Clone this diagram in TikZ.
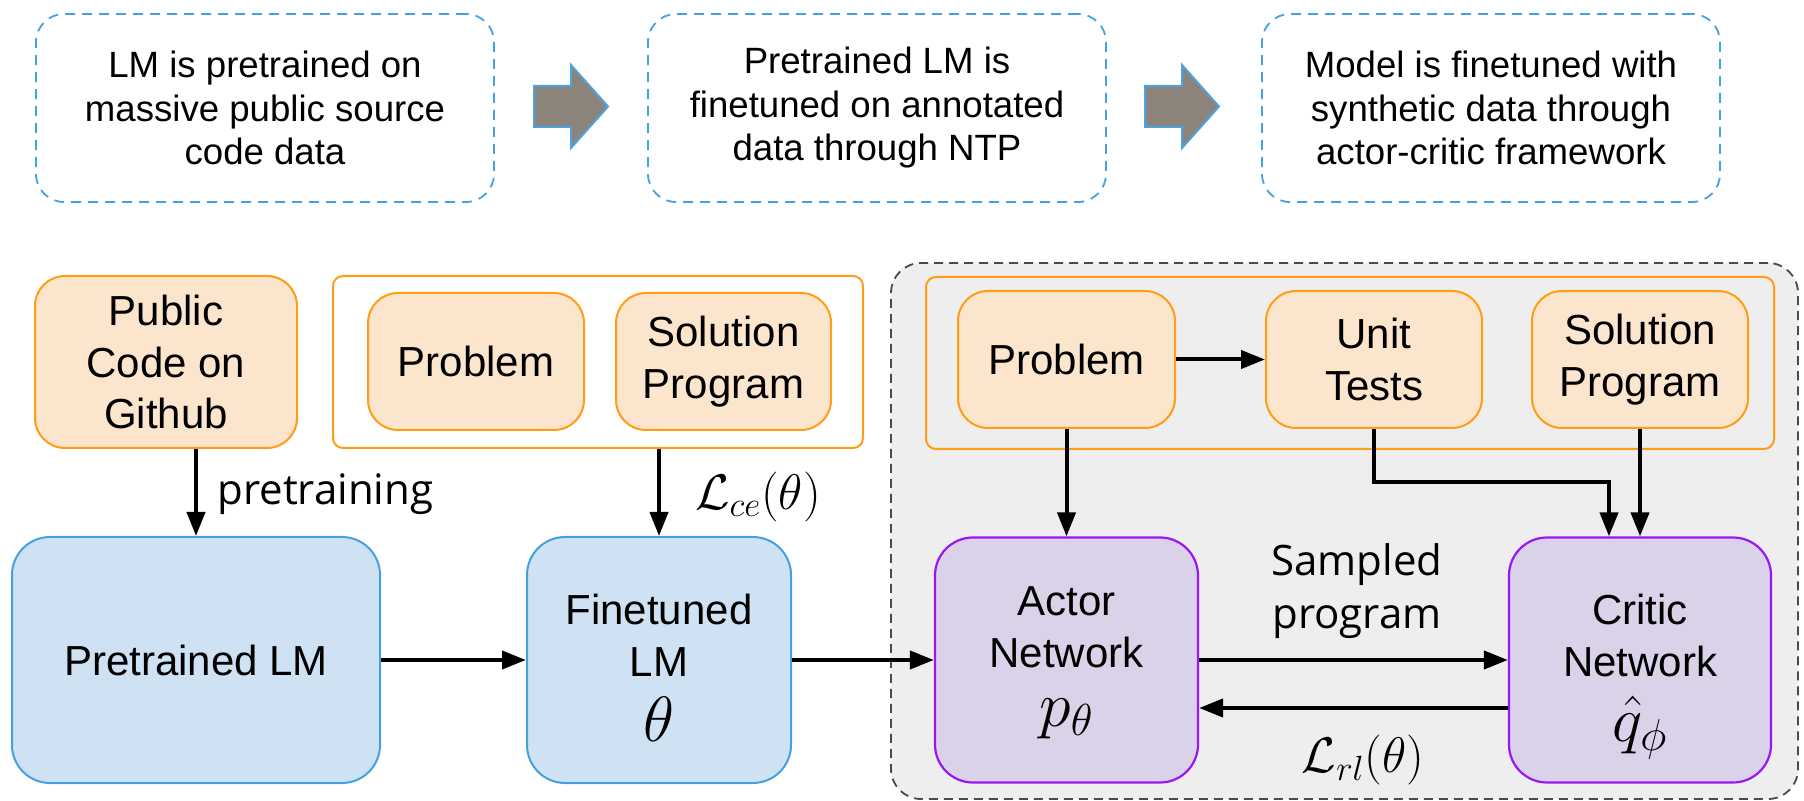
\RequirePackage{fix-cm}
\documentclass[tikz,border=0pt]{standalone}
\usepackage[no-math]{fontspec}
\setmainfont{Liberation Sans}
\newfontfamily\labelfont{Open Sans}
\usetikzlibrary{arrows.meta}

\definecolor{noteblue}{HTML}{45A2E2}
\definecolor{blockfill}{HTML}{8C837A}
\definecolor{blockline}{HTML}{4DA3E0}
\definecolor{orangeline}{HTML}{FF9D14}
\definecolor{orangefill}{HTML}{FCE5CD}
\definecolor{lmline}{HTML}{45A1DE}
\definecolor{lmfill}{HTML}{CFE2F3}
\definecolor{netline}{HTML}{9A16F5}
\definecolor{netfill}{HTML}{D9D2E9}
\definecolor{regionfill}{HTML}{EEEEEE}
\definecolor{regionline}{HTML}{4A4A4A}

\newcommand\symbolline[1]{{\fontsize{32}{32}\selectfont$#1$}}

\tikzset{
  notebox/.style={draw=noteblue, line width=0.9pt, dash pattern=on 5pt off 3.5pt,
    rounded corners=14pt, inner sep=0pt, align=center,
    minimum width=229pt, minimum height=94pt,
    font=\fontsize{18.3}{21.75}\selectfont},
  databox/.style={draw=orangeline, fill=orangefill, line width=1pt,
    rounded corners=15pt, inner sep=0pt, align=center,
    font=\fontsize{21}{25.8}\selectfont},
  groupbox/.style={draw=orangeline, fill=white, line width=1pt,
    rounded corners=5pt, inner sep=0pt, minimum height=86pt},
  lmbox/.style={draw=lmline, fill=lmfill, line width=1pt,
    rounded corners=19pt, inner sep=0pt, align=center, minimum height=123pt,
    font=\fontsize{21}{25.8}\selectfont},
  netbox/.style={draw=netline, fill=netfill, line width=1.1pt,
    rounded corners=19pt, inner sep=0pt, align=center, minimum height=122.5pt,
    font=\fontsize{21}{25.8}\selectfont},
  region/.style={draw=regionline, fill=regionfill, line width=0.9pt,
    dash pattern=on 4.5pt off 3pt, rounded corners=15pt, inner sep=0pt},
  flowlabel/.style={font=\labelfont\fontsize{21}{26.5}\selectfont, align=center, inner sep=0pt},
  mathlabel/.style={font=\fontsize{25}{25}\selectfont, inner sep=0pt},
  stagearrow/.style={fill=blockfill, draw=blockline, line width=1pt},
  arr/.style={line width=2pt, -{Triangle[length=12pt,width=9pt]}},
}

\begin{document}
\begin{tikzpicture}[x=0.5pt,y=-0.5pt]
\useasboundingbox (0,0) rectangle (1804,801);

% stage descriptions along the top
\node[notebox] (note1) at (265,108) {LM is pretrained on\\massive public source\\code data};
\node[notebox] (note2) at (877,108) {Pretrained LM is\\finetuned on annotated\\data through NTP};
\node[notebox] (note3) at (1491,108) {Model is finetuned with\\synthetic data through\\actor-critic framework};

% block arrows between the stages
\filldraw[stagearrow]
  (534,86) -- (571,86) -- (571,65) -- (608,106.5) -- (571,148) -- (571,127) -- (534,127) -- cycle;
\filldraw[stagearrow]
  (1145,86) -- (1182,86) -- (1182,65) -- (1219,106.5) -- (1182,148) -- (1182,127) -- (1145,127) -- cycle;

% shaded RL stage
\node[region, minimum width=453.5pt, minimum height=268pt] (rlstage) at (1344.5,531) {};

% data sources
\node[databox, minimum width=131pt, minimum height=86pt] (pub) at (166,362) {Public\\Code on\\Github};

\node[groupbox, minimum width=265pt] (grp1) at (598,362) {};
\node[databox, minimum width=108pt, minimum height=68.5pt] (prob1) at (476,361.5) {Problem};
\node[databox, minimum width=107.5pt, minimum height=68.5pt] (sol1) at (723.5,361.5) {Solution\\Program};

\node[groupbox, minimum width=424pt, fill=regionfill] (grp2) at (1350,363) {};
\node[databox, minimum width=108.5pt, minimum height=68.5pt] (prob2) at (1066.5,359.5) {Problem};
\node[databox, minimum width=108pt, minimum height=68.5pt] (unit) at (1374,359.5) {Unit\\Tests};
\node[databox, minimum width=108pt, minimum height=68.5pt] (sol2) at (1640,359.5) {Solution\\Program};

% models (text height/depth fix where the last baseline sits)
\node[lmbox, minimum width=184pt] (pre) at (196,660) {Pretrained LM};
\node[lmbox, minimum width=132pt, text height=81pt, text depth=0pt,
      font=\fontsize{21}{26.3}\selectfont] (ft) at (659,660)
  {Finetuned\\LM\\[5.9pt]\symbolline{\theta}};
\node[netbox, minimum width=131.5pt, text height=66pt, text depth=0pt] (actor) at (1066.5,660)
  {Actor\\Network\\[3.5pt]\symbolline{p_\theta}};
\node[netbox, minimum width=131pt, text height=81pt, text depth=0pt,
      font=\fontsize{21}{26.3}\selectfont] (critic) at (1640,660)
  {Critic\\Network\\[5.9pt]\symbolline{\hat{q}_\phi}};

% connectors
\draw[arr] (pre.north |- pub.south) -- (pre.north);
\node[flowlabel, anchor=base west] (ptlab) at (217,505) {pretraining};

\draw[arr] (ft.north |- grp1.south) -- (ft.north);
\node[mathlabel] (celab) at (758,497) {$\mathcal{L}_{ce}(\theta)$};

\draw[arr] (pre) -- (ft);
\draw[arr] (ft) -- (actor);

\draw[arr] (prob2) -- (unit);
\draw[arr] (prob2) -- (actor);
\coordinate (bend) at (1609,482);
\draw[arr] (unit.south) |- (bend) -- (bend |- critic.north);
\draw[arr] (sol2) -- (critic);

\draw[arr] (actor) -- (critic);
\node[flowlabel] (samplab) at (1357,591) {Sampled\\program};
\draw[arr] ([yshift=-24pt]critic.west) -- ([yshift=-24pt]actor.east);
\node[mathlabel] (rllab) at (1363,760) {$\mathcal{L}_{rl}(\theta)$};

\end{tikzpicture}
\end{document}
